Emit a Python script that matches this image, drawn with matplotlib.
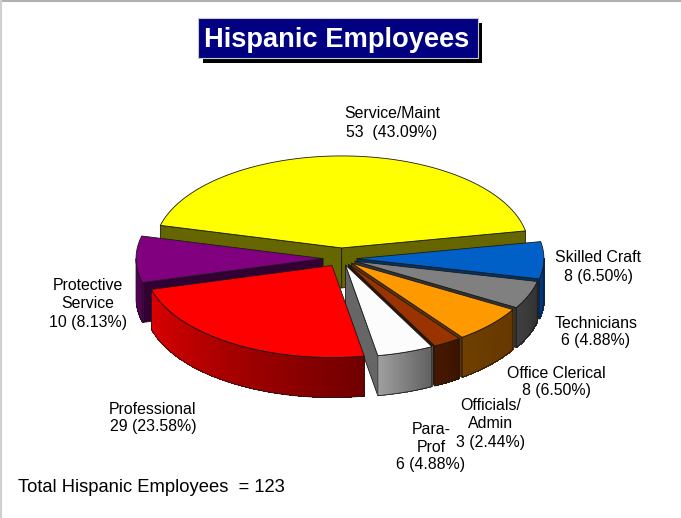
import numpy as np
import matplotlib
matplotlib.use("Agg")
import matplotlib.pyplot as plt
from matplotlib.patches import Polygon, Rectangle

plt.rcParams['font.family'] = ['Liberation Sans', 'DejaVu Sans']

# ---- data (clockwise from the right edge of Service/Maint, starting with it) ----
categories = ["Service/Maint", "Skilled Craft", "Technicians", "Office Clerical",
              "Officials/\nAdmin", "Para-\nProf", "Professional", "Protective\nService"]
values = [53, 8, 6, 8, 3, 6, 29, 10]
title = "Hispanic Employees"
total_label = "Total Hispanic Employees  = "

# ---- style ----
top_colors = ["#FFFF00", "#0060C8", "#808080", "#FF9900", "#993300", "#FCFCFC", "#FF0000", "#800080"]
face_colors = ["#666600", "#003366", "#333333", "#663300", "#331100", "#666666", "#660000", "#330033"]
wall_left = ["#666600", "#003C80", "#404040", "#6E3F00", "#481800", "#A0A0A0", "#DD0000", "#660066"]
wall_right = ["#666600", "#003070", "#333333", "#663800", "#3C1400", "#606060", "#700000", "#4C004C"]
explode = [0.115, 0.085, 0.08, 0.075, 0.075, 0.075, 0.09, 0.096]
draw_order = [0, 1, 7, 2, 3, 4, 5, 6]
label_xy = [(392, 123), (598, 267), (596, 332), (556, 382), (491, 424), (431, 447), (153, 418), (88, 304)]

CX, CY, RX, RY, DEPTH = 341, 258.5, 187, 92, 40
START = 165.8
EDGE = dict(edgecolor="#1a1a1a", linewidth=0.6, joinstyle="round")

fig = plt.figure(figsize=(6.81, 5.18), dpi=100, facecolor="white")
ax = fig.add_axes([0, 0, 1, 1])
ax.set_xlim(0, 681)
ax.set_ylim(518, 0)
ax.axis("off")

# frame lines at the top and left of the picture
ax.plot([0, 681], [0.5, 0.5], color="#b0b0b0", lw=1.5, zorder=1)
ax.plot([0.7, 0.7], [0, 518], color="#d0d0d0", lw=1.5, zorder=1)

# title box with shadow
ax.add_patch(Rectangle((203, 23), 279, 40, facecolor="black", edgecolor="none", zorder=2))
ax.add_patch(Rectangle((198, 18), 280, 40, facecolor="#000080", edgecolor="#c8c8c8", linewidth=0.8, zorder=3))
ax.text(337, 40, title, color="white", fontsize=19.6, fontweight="bold", ha="center", va="center", zorder=4)


def pt(ox, oy, deg):
    t = np.radians(deg)
    return ox + RX * np.cos(t), oy - RY * np.sin(t)


def mix(c1, c2, f):
    a, b = np.array(matplotlib.colors.to_rgb(c1)), np.array(matplotlib.colors.to_rgb(c2))
    return tuple(a + (b - a) * f)


total = sum(values)
sweeps = [v / total * 360 for v in values]
ends = START - np.cumsum(sweeps)
starts = ends + np.array(sweeps)

z = 10
for i in draw_order:
    a1, a2 = starts[i], ends[i]      # a1 is the counter-clockwise end, a2 the clockwise end
    mid = np.radians((a1 + a2) / 2)
    ox = CX + explode[i] * RX * np.cos(mid)
    oy = CY - explode[i] * RY * np.sin(mid)

    # cut faces
    for ang, normal in ((a1, a1 + 90), (a2, a2 - 90)):
        if np.sin(np.radians(normal)) < 0:
            x, y = pt(ox, oy, ang)
            ax.add_patch(Polygon([(ox, oy), (x, y), (x, y + DEPTH), (ox, oy + DEPTH)],
                                 facecolor=face_colors[i], zorder=z, **EDGE))
            z += 1

    # outer wall: the part of the rim turned to the viewer, shaded left to right
    arc = np.linspace(a2, a1, 200)
    arc = arc[np.sin(np.radians(arc)) <= 0]
    if len(arc) > 1:
        xs, ys = pt(ox, oy, arc)
        order = np.argsort(xs)
        xs, ys = xs[order], ys[order]
        n = len(xs)
        for k in range(n - 1):
            col = mix(wall_left[i], wall_right[i], k / (n - 2))
            ax.add_patch(Polygon([(xs[k], ys[k]), (xs[k + 1] + 0.6, ys[k + 1]),
                                  (xs[k + 1] + 0.6, ys[k + 1] + DEPTH), (xs[k], ys[k] + DEPTH)],
                                 facecolor=col, edgecolor="none", antialiased=False, zorder=z))
        z += 1
        outline = list(zip(xs, ys)) + list(zip(xs[::-1], ys[::-1] + DEPTH))
        ax.add_patch(Polygon(outline, facecolor="none", zorder=z, **EDGE))
        z += 1

    # top
    arc = np.linspace(a1, a2, 200)
    xs, ys = pt(ox, oy, arc)
    ax.add_patch(Polygon([(ox, oy)] + list(zip(xs, ys)), facecolor=top_colors[i], zorder=z, **EDGE))
    z += 1

# labels
for i, (name, v) in enumerate(zip(categories, values)):
    gap = "  " if i == 0 else " "
    s = f"{name}\n{v}{gap}({v / total * 100:.2f}%)"
    ax.text(label_xy[i][0], label_xy[i][1], s, fontsize=11.45, color="black", ha="center", va="center",
            linespacing=1.25, zorder=200)

ax.text(18, 487, f"{total_label}{total}", fontsize=13.25, color="black", ha="left", va="center", zorder=200)

fig.savefig("out.png", dpi=100, facecolor="white")
